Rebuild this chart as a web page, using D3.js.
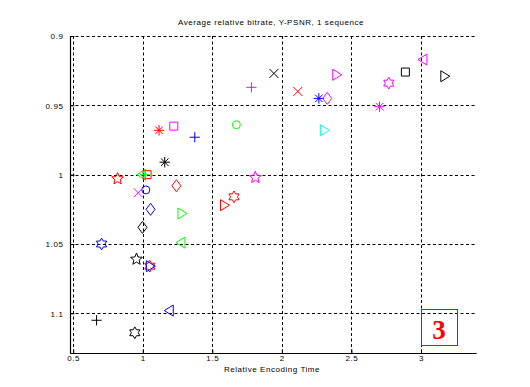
<!DOCTYPE html>
<html>
<head>
<meta charset="utf-8">
<script src="https://cdn.jsdelivr.net/npm/d3@7"></script>
<style>
  body { margin: 0; background: #fff; }
  text { font-family: "Liberation Sans", Arial, sans-serif; }
</style>
</head>
<body>
<div id="chart"></div>
<script>
const width = 530;
const height = 387;

// data
const encTime = [1.943, 1.781, 2.115, 2.266, 2.326, 2.391, 1.223, 1.117, 1.374, 1.158,
  1.673, 2.302, 2.702, 2.769, 2.888, 3.018, 3.168, 1.809, 1.656, 1.584,
  0.819, 0.995, 1.031, 1.015, 1.022, 0.967, 1.242, 1.056, 1.278, 0.998,
  1.278, 0.704, 0.955, 1.051, 1.051, 1.194, 0.668, 0.943];
const relRate = [0.927, 0.937, 0.940, 0.945, 0.945, 0.928, 0.965, 0.968, 0.973, 0.991,
  0.964, 0.968, 0.951, 0.934, 0.926, 0.917, 0.929, 1.002, 1.016, 1.022,
  1.003, 1.000, 1.000, 1.000, 1.011, 1.013, 1.008, 1.025, 1.028, 1.038,
  1.049, 1.050, 1.061, 1.066, 1.066, 1.098, 1.105, 1.114];
const markers = ['x', '+', 'x', '*', 'd', '>', 's', '*', '+', '*',
  'o', '>', '*', 'h', 's', '<', '>', 'p', 'h', '>',
  'p', '<', 's', '+', 'o', 'x', 'd', 'd', '>', 'd',
  '<', 'h', 'p', 'h', '>', '<', '+', 'h'];
const colors = ['k', 'm', 'r', 'b', 'm', 'm', 'm', 'r', 'b', 'k',
  'g', 'c', 'm', 'm', 'k', 'm', 'k', 'm', 'r', 'r',
  'r', 'g', 'r', 'g', 'b', 'm', 'r', 'b', 'g', 'k',
  'g', 'b', 'k', 'r', 'b', 'b', 'k', 'k'];

const xTicks = [0.5, 1, 1.5, 2, 2.5, 3];
const yTicks = [0.9, 0.95, 1, 1.05, 1.1];

const colorMap = {k: '#000000', r: '#ff0000', g: '#00ff00', b: '#0000ff', m: '#ff00ff', c: '#00ffff'};

const pLeft = 70, pRight = 476.6, pTop = 36, pBottom = 353;

var x = d3.scaleLinear().domain([0.477, 3.4]).range([pLeft, pRight]);
var y = d3.scaleLinear().domain([0.9, 1.1286]).range([pTop, pBottom]);

var svg = d3.select('#chart')
  .append('svg')
  .attr('width', width)
  .attr('height', height)
  .style('background-color', '#fff');

// grid
svg.append('g')
  .selectAll('line')
  .data(xTicks)
  .join('line')
  .attr('x1', d => Math.round(x(d)) + 0.5)
  .attr('x2', d => Math.round(x(d)) + 0.5)
  .attr('y1', pTop)
  .attr('y2', pBottom)
  .attr('stroke', '#000')
  .attr('stroke-dasharray', '3,2.5');

svg.append('g')
  .selectAll('line')
  .data(yTicks)
  .join('line')
  .attr('x1', pLeft)
  .attr('x2', pRight)
  .attr('y1', d => Math.round(y(d)) + 0.5)
  .attr('y2', d => Math.round(y(d)) + 0.5)
  .attr('stroke', '#000')
  .attr('stroke-dasharray', '3,2.5');

// axes (ticks point inward like matlab)
var xAxis = d3.axisBottom(x).tickValues(xTicks).tickSize(-4).tickPadding(2)
  .tickFormat(d3.format('~g'));
var yAxis = d3.axisLeft(y).tickValues(yTicks).tickSize(-4).tickPadding(7)
  .tickFormat(d3.format('~g'));

var gx = svg.append('g')
  .attr('transform', 'translate(0,' + (pBottom + 0.5) + ')')
  .call(xAxis);
var gy = svg.append('g')
  .attr('transform', 'translate(' + (pLeft + 0.5) + ',0)')
  .call(yAxis);

[gx, gy].forEach(function(g) {
  g.select('.domain').attr('stroke', '#000').attr('stroke-width', 1.2);
  g.selectAll('.tick text')
    .style('font-family', '"Liberation Sans", Arial, sans-serif')
    .style('font-size', '8px')
    .style('letter-spacing', '0.6px')
    .attr('fill', '#000');
});
gx.select('.domain').attr('d', 'M' + pLeft + ',0H' + pRight);
gy.select('.domain').attr('d', 'M0,' + pTop + 'V' + pBottom);
gy.selectAll('.tick text').attr('dy', '0.35em');

// title and label
svg.append('text')
  .attr('x', 271)
  .attr('y', 25)
  .style('font-size', '8px')
  .style('letter-spacing', '0.55px')
  .style('text-anchor', 'middle')
  .text('Average relative bitrate, Y-PSNR, 1 sequence');

svg.append('text')
  .attr('x', 272)
  .attr('y', 372)
  .style('font-size', '8px')
  .style('letter-spacing', '0.55px')
  .style('text-anchor', 'middle')
  .text('Relative Encoding Time');

// marker shapes
function starShape(n, inner) {
  return {
    draw: function(ctx, size) {
      var r = Math.sqrt(size) * 0.62, ri = r * inner;
      for (var i = 0; i < 2 * n; i++) {
        var a = Math.PI / n * i - Math.PI / 2;
        var rr = i % 2 ? ri : r;
        if (i === 0) ctx.moveTo(rr * Math.cos(a), rr * Math.sin(a));
        else ctx.lineTo(rr * Math.cos(a), rr * Math.sin(a));
      }
      ctx.closePath();
    }
  };
}
var hexagram = starShape(6, 0.58);
var pentagram = starShape(5, 0.45);
var star8 = {
  draw: function(ctx, size) {
    var r = Math.sqrt(size) * 0.55, q = r * 0.72;
    ctx.moveTo(-r, 0); ctx.lineTo(r, 0);
    ctx.moveTo(0, -r); ctx.lineTo(0, r);
    ctx.moveTo(-q, -q); ctx.lineTo(q, q);
    ctx.moveTo(-q, q); ctx.lineTo(q, -q);
  }
};
var tallDiamond = {
  draw: function(ctx, size) {
    var s = Math.sqrt(size);
    ctx.moveTo(0, -s * 0.6);
    ctx.lineTo(s * 0.45, 0);
    ctx.lineTo(0, s * 0.6);
    ctx.lineTo(-s * 0.45, 0);
    ctx.closePath();
  }
};
var rightTri = {
  draw: function(ctx, size) {
    var s = Math.sqrt(size);
    ctx.moveTo(-s * 0.35, -s * 0.55);
    ctx.lineTo(s * 0.55, 0);
    ctx.lineTo(-s * 0.35, s * 0.55);
    ctx.closePath();
  }
};

var shapeOf = {
  'x': [d3.symbolTimes, 55],
  '+': [d3.symbolPlus, 36],
  '*': [star8, 90],
  'o': [d3.symbolCircle, 50],
  's': [d3.symbolSquare, 64],
  'd': [tallDiamond, 100],
  '>': [rightTri, 100],
  '<': [rightTri, 100],
  'p': [pentagram, 100],
  'h': [hexagram, 90]
};

var pts = encTime.map(function(t, i) {
  return {t: t, r: relRate[i], m: markers[i], c: colorMap[colors[i]]};
});

svg.append('g')
  .selectAll('path')
  .data(pts)
  .join('path')
  .attr('d', d => d3.symbol().type(shapeOf[d.m][0]).size(shapeOf[d.m][1])())
  .attr('transform', d => 'translate(' + x(d.t) + ',' + y(d.r) + ')' + (d.m === '<' ? ' scale(-1,1)' : ''))
  .attr('fill', 'none')
  .attr('stroke', d => d.c)
  .attr('stroke-width', 1);

// label box
svg.append('rect')
  .attr('x', 421.5)
  .attr('y', 309.5)
  .attr('width', 36)
  .attr('height', 36)
  .attr('fill', 'none')
  .attr('stroke', '#ff0000');

svg.append('text')
  .attr('x', 439)
  .attr('y', 339)
  .style('font-family', '"Liberation Serif", "Times New Roman", serif')
  .style('font-size', '27px')
  .style('font-weight', 'bold')
  .style('text-anchor', 'middle')
  .attr('fill', '#ff0000')
  .text('3');
</script>
</body>
</html>
